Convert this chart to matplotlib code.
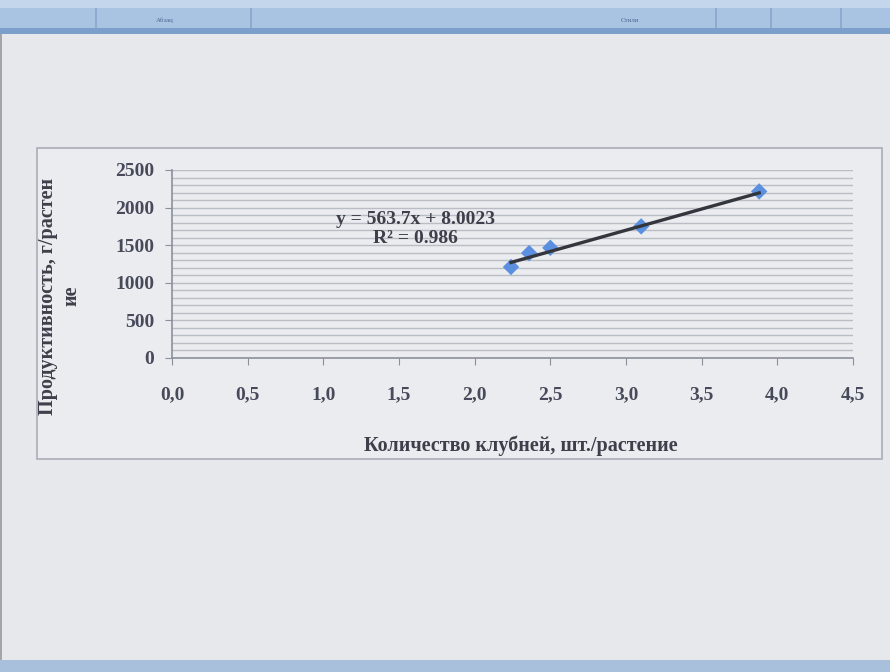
import numpy as np
import matplotlib
matplotlib.use("Agg")
import matplotlib.pyplot as plt
from matplotlib.patches import Rectangle
from matplotlib.ticker import FuncFormatter, MultipleLocator

# tubers per plant vs. yield per plant
tubers = [2.24, 2.36, 2.50, 3.10, 3.88]
yield_g = [1210, 1395, 1465, 1750, 2215]

# linear trend as printed on the chart
slope = 563.7
intercept = 8.0023
r2 = 0.986

x_ticks = [0.0, 0.5, 1.0, 1.5, 2.0, 2.5, 3.0, 3.5, 4.0, 4.5]
y_ticks = [0, 500, 1000, 1500, 2000, 2500]

plt.rcParams["font.family"] = ["Liberation Serif", "DejaVu Serif"]
plt.rcParams["font.weight"] = "bold"

W, H = 890, 672
fig = plt.figure(figsize=(W / 100, H / 100), dpi=100)
fig.patch.set_facecolor("#e7e8ec")

def box(x0, y0, x1, y1, **kw):
	# rectangle in pixel coords measured from the top-left corner
	r = Rectangle((x0 / W, 1 - y1 / H), (x1 - x0) / W, (y1 - y0) / H,
		transform=fig.transFigure, zorder=-5, **kw)
	fig.patches.append(r)

# ribbon at the top of the window and status bar at the bottom
box(0, 0, W, 30, facecolor="#a9c3e3", edgecolor="none")
box(0, 0, W, 8, facecolor="#c4d6ec", edgecolor="none")
box(0, 28, W, 34, facecolor="#7d9fcc", edgecolor="none")
for x in [95, 250, 715, 770, 840]:
	box(x, 8, x + 1.5, 28, facecolor="#8eaad0", edgecolor="none")
fig.text(165 / W, 1 - 20 / H, "Абзац", fontsize=5, color="#4d6a94",
	ha="center", va="center", fontweight="normal")
fig.text(630 / W, 1 - 20 / H, "Стили", fontsize=5, color="#4d6a94",
	ha="center", va="center", fontweight="normal")
box(0, 660, W, H, facecolor="#a8c0dc", edgecolor="none")
box(0, 34, 2, 660, facecolor="#a3a5ab", edgecolor="none")

# chart area frame
box(37, 148, 882, 459, facecolor="#ebecef", edgecolor="#a9adb6", linewidth=1.2)

ax = fig.add_axes([172 / W, 1 - 358 / H, 681 / W, 188 / H])
ax.set_facecolor("none")
ax.set_xlim(0, 4.5)
ax.set_ylim(0, 2500)
ax.set_xticks(x_ticks)
ax.set_yticks(y_ticks)
ax.yaxis.set_minor_locator(MultipleLocator(100))
ax.xaxis.set_major_formatter(FuncFormatter(lambda v, p: f"{v:.1f}".replace(".", ",")))

ax.grid(True, which="both", axis="y", color="#b9bdc6", linewidth=1.0)
ax.set_axisbelow(True)
for s in ["top", "right"]:
	ax.spines[s].set_visible(False)
for s in ["left", "bottom"]:
	ax.spines[s].set_color("#8c909c")
	ax.spines[s].set_linewidth(1.2)

ax.tick_params(axis="y", which="major", length=5, color="#8c909c", pad=8,
	labelsize=14, labelcolor="#474a5a")
ax.tick_params(axis="y", which="minor", length=0)
ax.tick_params(axis="x", length=5, color="#8c909c", pad=15,
	labelsize=14, labelcolor="#474a5a")
for lab in ax.get_xticklabels() + ax.get_yticklabels():
	lab.set_fontweight("bold")

ax.scatter(tubers, yield_g, marker="D", s=70, color="#5b8fe0",
	edgecolors="none", zorder=3, clip_on=False)

xt = np.array([min(tubers), max(tubers)])
ax.plot(xt, slope * xt + intercept, color="#34363d", linewidth=2.4, zorder=4)

ax.text(1.61, 1720, f"y = {slope}x + {intercept}\nR² = {r2}", ha="center",
	va="center", fontsize=14, fontweight="bold", color="#3d3f4a",
	linespacing=1.15)

fig.text(521 / W, 1 - 446 / H, "Количество клубней, шт./растение",
	ha="center", va="center", fontsize=14.5, fontweight="bold", color="#3d3f4a")
fig.text(60 / W, 1 - 296 / H, "Продуктивность, г/растен\nие", rotation=90,
	ha="center", va="center", multialignment="center", fontsize=14.5,
	fontweight="bold", color="#3d3f4a", linespacing=1.2)

fig.savefig("out.png", dpi=100, facecolor=fig.get_facecolor())
